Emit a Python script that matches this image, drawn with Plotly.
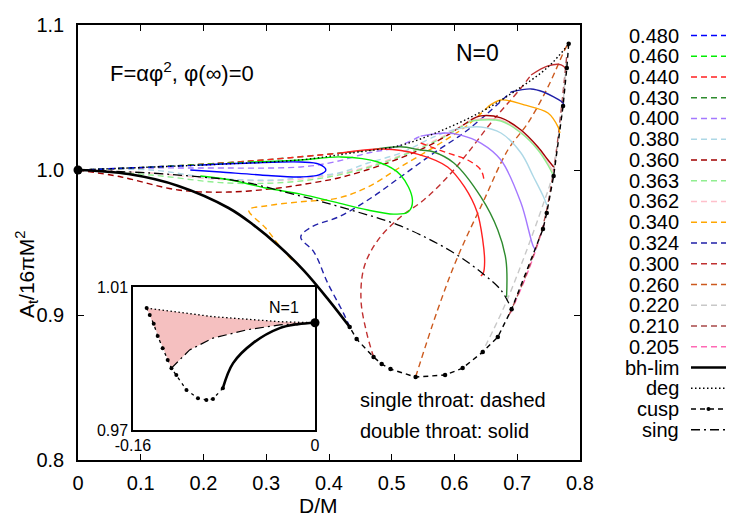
import plotly.graph_objects as go

# ---------------- data: D/M (x) and A_t/16piM^2 (y) ----------------
alpha_labels = ["0.480", "0.460", "0.440", "0.430", "0.400", "0.380", "0.360", "0.363",
                "0.362", "0.340", "0.324", "0.300", "0.260", "0.220", "0.210", "0.205"]

D_480_dash = [0, 0.116, 0.195]
A_480_dash = [1.0, 1.002, 1.0034]
D_480_solid = [0.195, 0.275, 0.355, 0.384, 0.395, 0.384, 0.355, 0.291, 0.227, 0.179]
A_480_solid = [1.0034, 1.0048, 1.0055, 1.0041, 1.0, 0.9966, 0.9952, 0.9966, 0.9986, 1.0]

D_460_dash = [0, 0.116, 0.275]
A_460_dash = [1.0, 1.002, 1.0055]
D_460_solid = [0.275, 0.355, 0.419, 0.478, 0.514, 0.533, 0.526, 0.503, 0.462, 0.408, 0.355, 0.299, 0.243, 0.195]
A_460_solid = [1.0055, 1.0069, 1.009, 1.0055, 0.9966, 0.9793, 0.971, 0.9696, 0.9724, 0.978, 0.9834, 0.9876, 0.9931, 0.9959]

D_440_dash = [0, 0.116, 0.275, 0.419]
A_440_dash = [1.0, 1.002, 1.0062, 1.0117]
D_440_hook = [0.546, 0.589, 0.621, 0.642, 0.647]
A_440_hook = [1.0186, 1.0117, 1.0069, 1.0, 0.9931]
D_440_solid = [0.419, 0.487, 0.541, 0.589, 0.616, 0.636, 0.645, 0.648, 0.646, 0.642]
A_440_solid = [1.0117, 1.0145, 1.011, 1.0021, 0.9883, 0.971, 0.9517, 0.9365, 0.929, 0.9269]

D_430_dash = [0, 0.116, 0.275, 0.467]
A_430_dash = [1.0, 1.002, 1.0062, 1.0138]
D_430_solid = [0.467, 0.514, 0.546, 0.567, 0.599, 0.642, 0.669, 0.682, 0.683]
A_430_solid = [1.0138, 1.016, 1.0138, 1.0124, 1.0048, 0.9814, 0.9586, 0.9379, 0.9124]

D_400_dash = [0, 0.116, 0.195, 0.355, 0.408, 0.462, 0.503, 0.546]
A_400_dash = [1.0, 1.0014, 1.0014, 1.0021, 1.0055, 1.0117, 1.0152, 1.0234]
D_400_solid = [0.546, 0.586, 0.610, 0.642, 0.674, 0.706, 0.726, 0.730]
A_400_solid = [1.0234, 1.0255, 1.0241, 1.0186, 1.0069, 0.9772, 0.9469, 0.9448]

D_380_dash = [0, 0.116, 0.213, 0.320, 0.355, 0.415, 0.462, 0.514, 0.567, 0.602]
A_380_dash = [1.0, 1.0, 0.9945, 0.9931, 0.9952, 0.9979, 1.0048, 1.0117, 1.0228, 1.0283]
D_380_solid = [0.602, 0.642, 0.674, 0.706, 0.726, 0.742, 0.747]
A_380_solid = [1.0283, 1.0297, 1.0255, 1.0117, 0.9952, 0.9814, 0.9759]

D_360_dash = [0, 0.069, 0.160, 0.240, 0.320, 0.372, 0.415, 0.460, 0.514, 0.567, 0.626]
A_360_dash = [1.0, 0.9952, 0.9862, 0.9848, 0.9876, 0.991, 0.9945, 1.0, 1.0083, 1.0186, 1.0345]
D_360_solid = [0.626, 0.642, 0.674, 0.706, 0.733, 0.749, 0.758]
A_360_solid = [1.0345, 1.0373, 1.0359, 1.0276, 1.0159, 1.0069, 1.0021]

D_363_dash = [0, 0.116, 0.240, 0.355, 0.460, 0.567, 0.626]
A_363_dash = [1.0, 0.9966, 0.991, 0.9924, 1.0014, 1.0193, 1.0338]
D_363_solid = [0.626, 0.674, 0.706, 0.733, 0.749, 0.758]
A_363_solid = [1.0338, 1.0338, 1.0255, 1.0138, 1.0034, 0.9959]

D_362_dash = [0, 0.116, 0.240, 0.355, 0.460, 0.567, 0.626]
A_362_dash = [1.0, 0.9979, 0.9931, 0.9938, 1.0021, 1.02, 1.0345]
D_362_solid = [0.626, 0.674, 0.706, 0.733, 0.749, 0.758]
A_362_solid = [1.0345, 1.0345, 1.0262, 1.0145, 1.0048, 0.9986]

D_340_dash = [0.341, 0.320, 0.299, 0.272, 0.299, 0.352, 0.415, 0.462, 0.514, 0.578, 0.621, 0.653]
A_340_dash = [0.9379, 0.9483, 0.96, 0.9724, 0.9752, 0.978, 0.9807, 0.9883, 1.0021, 1.0186, 1.031, 1.0435]
D_340_solid = [0.653, 0.674, 0.711, 0.749, 0.765, 0.768]
A_340_solid = [1.0435, 1.0483, 1.0449, 1.0393, 1.0297, 1.0255]

D_324_dash = [0.433, 0.423, 0.398, 0.376, 0.355, 0.372, 0.415, 0.462, 0.514, 0.567, 0.621, 0.690]
A_324_dash = [0.8917, 0.9013, 0.922, 0.9434, 0.9538, 0.9607, 0.9676, 0.9793, 0.9952, 1.0117, 1.0276, 1.0538]
D_324_solid = [0.690, 0.722, 0.742, 0.758, 0.773, 0.774]
A_324_solid = [1.0538, 1.0559, 1.0538, 1.0504, 1.0462, 1.0441]

D_300_dash = [0.471, 0.459, 0.451, 0.456, 0.478, 0.514, 0.551, 0.589, 0.621, 0.658, 0.706, 0.722]
A_300_dash = [0.871, 0.8896, 0.9103, 0.9331, 0.9517, 0.9676, 0.9793, 0.9952, 1.0117, 1.0324, 1.0566, 1.0655]
D_300_solid = [0.722, 0.749, 0.770, 0.779]
A_300_solid = [1.0655, 1.0718, 1.0725, 1.069]

D_260_dash = [0.538, 0.573, 0.605, 0.647, 0.685, 0.717, 0.749, 0.774, 0.779]
A_260_dash = [0.8572, 0.9034, 0.94, 0.9793, 1.0138, 1.0324, 1.0573, 1.0814, 1.0856]

D_220_dash = [0.642, 0.679, 0.711, 0.742, 0.754, 0.770, 0.778]
A_220_dash = [0.8724, 0.9055, 0.94, 0.9772, 0.9931, 1.0345, 1.0738]

D_210_dash = [0.687, 0.717, 0.742, 0.758, 0.770, 0.779]
A_210_dash = [0.90, 0.931, 0.9634, 1.0, 1.0414, 1.0794]

D_205_dash = [0.689, 0.719, 0.745]
A_205_dash = [0.9013, 0.932, 0.9655]

# boundary curves
D_bh = [0, 0.0805, 0.160, 0.240, 0.280, 0.320, 0.360, 0.399, 0.433]
A_bh = [1.0, 0.9972, 0.989, 0.9738, 0.962, 0.9476, 0.9306, 0.9106, 0.8917]

D_deg = [0, 0.116, 0.227, 0.355, 0.435, 0.514, 0.578, 0.642, 0.695, 0.749, 0.782]
A_deg = [1.0, 1.002, 1.004, 1.007, 1.0117, 1.017, 1.027, 1.040, 1.054, 1.071, 1.087]

D_cusp = [0.782, 0.779, 0.773, 0.758, 0.747, 0.741, 0.691, 0.669, 0.645, 0.613, 0.585, 0.538,
          0.498, 0.484, 0.471, 0.444, 0.433]
A_cusp = [1.087, 1.0704, 1.0441, 0.9959, 0.9703, 0.9593, 0.904, 0.8848, 0.8745, 0.8634, 0.8586,
          0.8572, 0.8627, 0.8662, 0.871, 0.8834, 0.8917]

D_sing = [0, 0.116, 0.195, 0.256, 0.355, 0.435, 0.514, 0.594, 0.642, 0.674, 0.691]
A_sing = [1.0, 0.9979, 0.9952, 0.9924, 0.982, 0.9724, 0.9614, 0.9441, 0.9296, 0.9172, 0.904]

D_rn = [0]
A_rn = [1.0]

# inset (N=1)
in_D_bh = [0, -0.015, -0.031, -0.0545, -0.072, -0.081]
in_A_bh = [1.0, 0.9996, 0.9985, 0.9943, 0.9887, 0.9817]
in_D_cusp = [-0.081, -0.0897, -0.0955, -0.1029, -0.113, -0.1219, -0.1262, -0.1295, -0.1339,
             -0.1383, -0.1418, -0.1453, -0.1480]
in_A_cusp = [0.9817, 0.9787, 0.9784, 0.9789, 0.9812, 0.9854, 0.9873, 0.9896, 0.9929,
             0.9963, 0.9997, 1.0022, 1.0041]
in_D_deg = [-0.1480, -0.0897, -0.031, 0]
in_A_deg = [1.0041, 1.0017, 1.0003, 1.0]
in_D_sing = [-0.1262, -0.1102, -0.0897, -0.0603, -0.031, 0]
in_A_sing = [0.9873, 0.9924, 0.9957, 0.998, 0.9994, 1.0]

x_ticks = [0, 0.1, 0.2, 0.3, 0.4, 0.5, 0.6, 0.7, 0.8]
x_ticktext = ["0", "0.1", "0.2", "0.3", "0.4", "0.5", "0.6", "0.7", "0.8"]
y_ticks = [0.8, 0.9, 1.0, 1.1]
y_ticktext = ["0.8", "0.9", "1.0", "1.1"]
in_x_ticks = [-0.16, 0]
in_x_ticktext = ["-0.16", "0"]
in_y_ticks = [0.97, 1.01]
in_y_ticktext = ["0.97", "1.01"]

# ---------------- styles ----------------
FONT = "Liberation Sans, Arial, Helvetica, sans-serif"
colors = {
    "0.480": "#0000ff", "0.460": "#00ee00", "0.440": "#ff2020", "0.430": "#2e8b2e",
    "0.400": "#a478ff", "0.380": "#add8e6", "0.360": "#a00000", "0.363": "#90ee90",
    "0.362": "#ffc0cb", "0.340": "#ffa500", "0.324": "#2020a8", "0.300": "#c03030",
    "0.260": "#cc5a1e", "0.220": "#c8c8c8", "0.210": "#a84848", "0.205": "#ff69b4",
}
DASH = "6px,4px"

series = {
    "0.480": [(D_480_dash, A_480_dash, True), (D_480_solid, A_480_solid, False)],
    "0.460": [(D_460_dash, A_460_dash, True), (D_460_solid, A_460_solid, False)],
    "0.440": [(D_440_dash, A_440_dash, True), (D_440_hook, A_440_hook, True), (D_440_solid, A_440_solid, False)],
    "0.430": [(D_430_dash, A_430_dash, True), (D_430_solid, A_430_solid, False)],
    "0.400": [(D_400_dash, A_400_dash, True), (D_400_solid, A_400_solid, False)],
    "0.380": [(D_380_dash, A_380_dash, True), (D_380_solid, A_380_solid, False)],
    "0.360": [(D_360_dash, A_360_dash, True), (D_360_solid, A_360_solid, False)],
    "0.363": [(D_363_dash, A_363_dash, True), (D_363_solid, A_363_solid, False)],
    "0.362": [(D_362_dash, A_362_dash, True), (D_362_solid, A_362_solid, False)],
    "0.340": [(D_340_dash, A_340_dash, True), (D_340_solid, A_340_solid, False)],
    "0.324": [(D_324_dash, A_324_dash, True), (D_324_solid, A_324_solid, False)],
    "0.300": [(D_300_dash, A_300_dash, True), (D_300_solid, A_300_solid, False)],
    "0.260": [(D_260_dash, A_260_dash, True)],
    "0.220": [(D_220_dash, A_220_dash, True)],
    "0.210": [(D_210_dash, A_210_dash, True)],
    "0.205": [(D_205_dash, A_205_dash, True)],
}

fig = go.Figure()

for lab in reversed(alpha_labels):
    for D, A, dashed in series[lab]:
        fig.add_trace(go.Scatter(
            x=D, y=A, mode="lines", line_shape="spline",
            line=dict(color=colors[lab], width=1.4, dash=DASH if dashed else "solid"),
            showlegend=False, hoverinfo="skip"))

fig.add_trace(go.Scatter(x=D_bh, y=A_bh, mode="lines", line_shape="spline",
                         line=dict(color="black", width=2.6), showlegend=False))
fig.add_trace(go.Scatter(x=D_deg, y=A_deg, mode="lines", line_shape="spline",
                         line=dict(color="black", width=1.4, dash="1.5px,2.5px"), showlegend=False))
fig.add_trace(go.Scatter(x=D_cusp, y=A_cusp, mode="lines+markers",
                         line=dict(color="black", width=1.4, dash="5px,4px"),
                         marker=dict(color="black", size=4.5), showlegend=False))
fig.add_trace(go.Scatter(x=D_sing, y=A_sing, mode="lines", line_shape="spline",
                         line=dict(color="black", width=1.3, dash="9px,4px,2px,4px"), showlegend=False))
fig.add_trace(go.Scatter(x=D_rn, y=A_rn, mode="markers", marker=dict(color="black", size=9),
                         cliponaxis=False, showlegend=False))

# inset
fig.add_trace(go.Scatter(x=in_D_deg + in_D_sing[::-1], y=in_A_deg + in_A_sing[::-1],
                         xaxis="x2", yaxis="y2", mode="lines", fill="toself",
                         fillcolor="#f5c0c0", line=dict(width=0), showlegend=False))
fig.add_trace(go.Scatter(x=in_D_deg, y=in_A_deg, xaxis="x2", yaxis="y2", mode="lines",
                         line=dict(color="black", width=1.3, dash="1.5px,2.5px"), showlegend=False))
fig.add_trace(go.Scatter(x=in_D_sing, y=in_A_sing, xaxis="x2", yaxis="y2", mode="lines",
                         line=dict(color="black", width=1.2, dash="9px,4px,2px,4px"), showlegend=False))
fig.add_trace(go.Scatter(x=in_D_cusp, y=in_A_cusp, xaxis="x2", yaxis="y2", mode="lines+markers",
                         line=dict(color="black", width=1.3, dash="3px,4px"),
                         marker=dict(color="black", size=4), showlegend=False))
fig.add_trace(go.Scatter(x=in_D_bh, y=in_A_bh, xaxis="x2", yaxis="y2", mode="lines", line_shape="spline",
                         line=dict(color="black", width=2.6), showlegend=False))
fig.add_trace(go.Scatter(x=D_rn, y=A_rn, xaxis="x2", yaxis="y2", mode="markers",
                         marker=dict(color="black", size=9), cliponaxis=False, showlegend=False))

# ---------------- layout ----------------
L, R, T, B = 78, 170, 25, 65
W, H = 750, 525
PW, PH = W - L - R, H - T - B


def px(xp):
    return (xp - L) / PW


def py(yp):
    return (H - B - yp) / PH


axis_common = dict(showline=True, linecolor="black", linewidth=1.5, mirror="ticks",
                   ticks="inside", ticklen=6, tickwidth=1.2, tickcolor="black",
                   showgrid=False, zeroline=False,
                   tickfont=dict(family=FONT, size=20, color="black"))

annotations = []
shapes = []

# custom gnuplot-style key
key_entries = [(lab, colors[lab], DASH, 1.4) for lab in alpha_labels]
key_entries += [("bh-lim", "black", "solid", 2.6), ("deg", "black", "1.5px,2.5px", 1.4),
                ("cusp", "black", "5px,4px", 1.4), ("sing", "black", "9px,4px,2px,4px", 1.3)]
for i, (lab, col, dash, w) in enumerate(key_entries):
    yk = 35.5 + 20.75 * i
    annotations.append(dict(x=px(681), y=py(yk), xref="paper", yref="paper", text=lab,
                            xanchor="right", yanchor="middle", showarrow=False,
                            font=dict(family=FONT, size=20, color="black")))
    shapes.append(dict(type="line", xref="paper", yref="paper", x0=px(691), x1=px(726),
                       y0=py(yk), y1=py(yk), line=dict(color=col, width=w, dash=dash)))
    if lab == "cusp":
        shapes.append(dict(type="circle", xref="paper", yref="paper",
                           x0=px(706.5), x1=px(710.5), y0=py(yk + 2), y1=py(yk - 2),
                           fillcolor="black", line=dict(color="black", width=0)))

texts = [
    ("F=αφ<sup>2</sup>, φ(∞)=0", 108, 72, "left", 22),
    ("N=0", 477, 53, "center", 23),
    ("single throat: dashed", 358, 400, "left", 20),
    ("double throat: solid", 358, 431, "left", 20),
    ("N=1", 284, 307, "center", 16),
    ("D/M", 318, 505, "center", 21),
]
for t, xx, yy, anc, fs in texts:
    annotations.append(dict(x=px(xx), y=py(yy), xref="paper", yref="paper", text=t,
                            xanchor=anc, yanchor="middle", showarrow=False,
                            font=dict(family=FONT, size=fs, color="black")))
annotations.append(dict(x=px(26), y=py(275), xref="paper", yref="paper",
                        text="A<sub>t</sub>/16πM<sup>2</sup>", textangle=-90,
                        xanchor="center", yanchor="middle", showarrow=False,
                        font=dict(family=FONT, size=21, color="black")))

fig.update_layout(
    width=W, height=H, margin=dict(l=L, r=R, t=T, b=B),
    paper_bgcolor="white", plot_bgcolor="white", showlegend=False,
    font=dict(family=FONT, color="black"),
    xaxis=dict(range=[0, 0.8], tickvals=x_ticks, ticktext=x_ticktext,
               ticklabelstandoff=4, **axis_common),
    yaxis=dict(range=[0.8, 1.1], tickvals=y_ticks, ticktext=y_ticktext,
               ticklabelstandoff=8, **axis_common),
    xaxis2=dict(domain=[px(133), px(315)], anchor="y2", range=[-0.16, 0],
                tickvals=in_x_ticks, ticktext=in_x_ticktext, showline=True, mirror=True,
                linecolor="black", linewidth=1.5, ticks="", showgrid=False, zeroline=False,
                tickfont=dict(family=FONT, size=16, color="black")),
    yaxis2=dict(domain=[py(430), py(287)], anchor="x2", range=[0.97, 1.01],
                tickvals=in_y_ticks, ticktext=in_y_ticktext, showline=True, mirror=True,
                linecolor="black", linewidth=1.5, ticks="", showgrid=False, zeroline=False,
                tickfont=dict(family=FONT, size=16, color="black")),
    annotations=annotations, shapes=shapes,
)

fig.write_html("out.html")
